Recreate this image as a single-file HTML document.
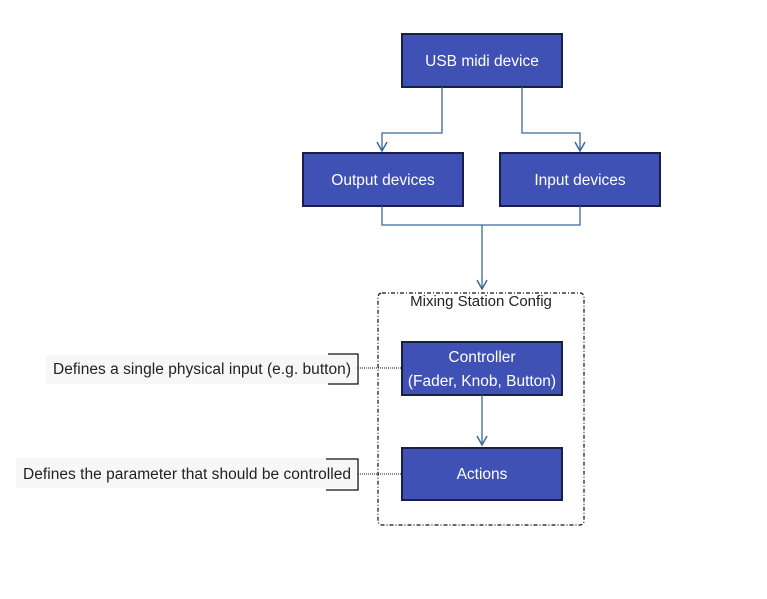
<!DOCTYPE html>
<html><head><style>body{margin:0;background:#fff}</style></head><body>
<svg width="767" height="594" xmlns="http://www.w3.org/2000/svg" font-family="Liberation Sans, Arial, sans-serif">
<rect width="767" height="594" fill="#fff"/>
<g fill="#3f51b5" stroke="#1a1f4a" stroke-width="2">
<rect x="402" y="34" width="160" height="53"/>
<rect x="303" y="153" width="160" height="53"/>
<rect x="500" y="153" width="160" height="53"/>
<rect x="402" y="342" width="160" height="53"/>
<rect x="402" y="448" width="160" height="52"/>
</g>
<g fill="none" stroke="#3a6a9a" stroke-width="1.3">
<path d="M442 87V133H382V150"/>
<path d="M522 87V133H580V150"/>
<path d="M382 206V225H580V206"/>
<path d="M482 225V289"/>
<path d="M482 395V445"/>
</g>
<g fill="none" stroke="#3a6a9a" stroke-width="1.5">
<path d="M377 142L382 151L387 142"/>
<path d="M575 142L580 151L585 142"/>
<path d="M477 280L482 289L487 280"/>
<path d="M477 436L482 445L487 436"/>
</g>
<rect x="378" y="293" width="206" height="232" rx="4" fill="none" stroke="#111" stroke-width="1.2" stroke-dasharray="4,2,1,2"/>
<text x="481" y="306" text-anchor="middle" font-size="15" fill="#222">Mixing Station Config</text>
<rect x="46" y="355" width="310" height="29" fill="#f7f7f7"/>
<rect x="16" y="458" width="340" height="30" fill="#f7f7f7"/>
<g fill="none" stroke="#111" stroke-width="1.3">
<path d="M328 354H358V384H328"/>
<path d="M326 459H358V490H326"/>
</g>
<g stroke="#111" stroke-dasharray="1,1">
<line x1="358" y1="368" x2="402" y2="368"/>
<line x1="358" y1="474" x2="402" y2="474"/>
</g>
<g font-size="15.5" fill="#222" text-anchor="end">
<text x="351" y="374" textLength="298">Defines a single physical input (e.g. button)</text>
<text x="351" y="479" textLength="328">Defines the parameter that should be controlled</text>
</g>
<g font-size="15.5" fill="#fff" text-anchor="middle">
<text x="482" y="66">USB midi device</text>
<text x="383" y="185">Output devices</text>
<text x="580" y="185">Input devices</text>
<text x="482" y="362">Controller</text>
<text x="482" y="386">(Fader, Knob, Button)</text>
<text x="482" y="479">Actions</text>
</g>
</svg>
</body></html>
